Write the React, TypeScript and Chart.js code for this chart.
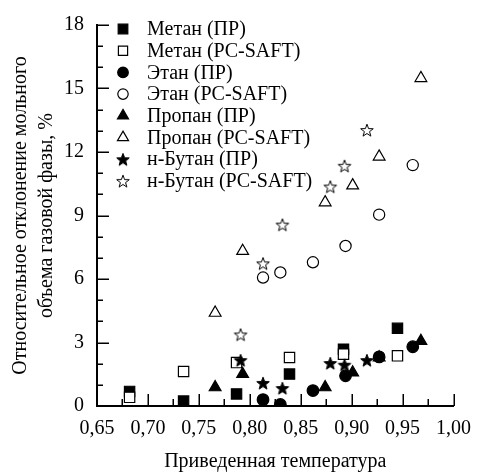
import React, { useEffect, useRef } from 'react';
import { Chart, registerables } from 'chart.js';
import { drawPoint } from 'chart.js/helpers';

Chart.register(...registerables);

// ---- data ----
const seriesLabels = [
  'Метан (ПР)',
  'Метан (PC-SAFT)',
  'Этан (ПР)',
  'Этан (PC-SAFT)',
  'Пропан (ПР)',
  'Пропан (PC-SAFT)',
  'н-Бутан (ПР)',
  'н-Бутан (PC-SAFT)',
];

const methaneT = [0.682, 0.735, 0.787, 0.839, 0.892, 0.945];
const methanePR = [0.69, 0.23, 0.57, 1.51, 2.68, 3.67];
const methanePCSAFT = [0.41, 1.63, 2.05, 2.29, 2.45, 2.37];

const ethaneT = [0.813, 0.83, 0.862, 0.894, 0.927, 0.96];
const ethanePR = [0.3, 0.07, 0.73, 1.43, 2.32, 2.8];
const ethanePCSAFT = [6.07, 6.31, 6.79, 7.56, 9.04, 11.38];

const propaneT = [0.766, 0.793, 0.874, 0.901, 0.927, 0.968];
const propanePR = [0.88, 1.51, 0.88, 1.58, 2.29, 3.07];
const propanePCSAFT = [4.4, 7.32, 9.62, 10.42, 11.78, 15.49];

const butaneT = [0.791, 0.813, 0.832, 0.879, 0.893, 0.915];
const butanePR = [2.17, 1.09, 0.85, 2.03, 1.95, 2.17];
const butanePCSAFT = [3.38, 6.74, 8.57, 10.37, 11.35, 13.04];

const xTickValues = [0.65, 0.7, 0.75, 0.8, 0.85, 0.9, 0.95, 1.0];
const xTickLabels = ['0,65', '0,70', '0,75', '0,80', '0,85', '0,90', '0,95', '1,00'];
const yTickValues = [0, 3, 6, 9, 12, 15, 18];
const yTickLabels = ['0', '3', '6', '9', '12', '15', '18'];

const xTitle = 'Приведенная температура';
const yTitle = ['Относительное отклонение мольного', 'объема газовой фазы, %'];

const FONT = '"Liberation Serif", "Times New Roman", serif';

function makeStar(filled: boolean): HTMLCanvasElement {
  const c = document.createElement('canvas');
  c.width = 16;
  c.height = 16;
  const g = c.getContext('2d')!;
  g.beginPath();
  const outer = 6.6;
  const inner = filled ? 2.8 : 2.7;
  for (let k = 0; k < 10; k++) {
    const r = k % 2 === 0 ? outer : inner;
    const a = -Math.PI / 2 + (k * Math.PI) / 5;
    const px = 8 + r * Math.cos(a);
    const py = 8.8 + r * Math.sin(a);
    if (k === 0) g.moveTo(px, py);
    else g.lineTo(px, py);
  }
  g.closePath();
  g.fillStyle = filled ? '#000' : '#fff';
  g.fill();
  g.lineWidth = 1;
  g.strokeStyle = '#000';
  g.stroke();
  return c;
}

const pts = (t: number[], v: number[]) => t.map((x, i) => ({ x, y: v[i] }));

const innerTicks = {
  id: 'innerTicks',
  beforeDatasetsDraw(chart: any) {
    const { ctx, chartArea, scales } = chart;
    const xs = scales.x;
    const ys = scales.y;
    ctx.save();
    ctx.strokeStyle = '#000';
    ctx.lineWidth = 1.5;
    ctx.beginPath();
    for (let k = 0; k <= 14; k++) {
      const v = 0.65 + k * 0.025;
      const px = Math.round(xs.getPixelForValue(v)) + 0.25;
      const len = k % 2 === 0 ? 12 : 7;
      ctx.moveTo(px, chartArea.bottom);
      ctx.lineTo(px, chartArea.bottom - len);
    }
    for (let v = 0; v <= 18; v++) {
      const py = Math.round(ys.getPixelForValue(v)) + 0.25;
      const len = v % 3 === 0 ? 12 : 6;
      ctx.moveTo(chartArea.left, py);
      ctx.lineTo(chartArea.left + len, py);
    }
    ctx.stroke();
    ctx.restore();
  },
};

const innerLegend = {
  id: 'innerLegend',
  afterDraw(chart: any) {
    const { ctx, chartArea } = chart;
    ctx.save();
    chart.data.datasets.forEach((ds: any, i: number) => {
      const cy = chartArea.top + 4 + i * 21.7;
      const cx = chartArea.left + 26;
      ctx.fillStyle = ds.backgroundColor;
      ctx.strokeStyle = ds.borderColor;
      ctx.lineWidth = ds.borderWidth;
      drawPoint(
        ctx,
        { pointStyle: ds.pointStyle, radius: ds.legendRadius, rotation: 0, borderWidth: ds.borderWidth },
        cx,
        cy
      );
      ctx.fillStyle = '#000';
      ctx.font = `20px ${FONT}`;
      ctx.textBaseline = 'middle';
      ctx.textAlign = 'left';
      ctx.fillText(ds.label, cx + 24, cy + 1);
    });
    ctx.restore();
  },
};

export default function App() {
  const ref = useRef<HTMLCanvasElement | null>(null);

  useEffect(() => {
    if (!ref.current) return;
    const starFilled = makeStar(true);
    const starOpen = makeStar(false);

    const mk = (i: number, data: any[], style: any, filled: boolean, radius: number, legendRadius: number) => ({
      label: seriesLabels[i],
      data,
      pointStyle: style,
      pointRadius: radius,
      legendRadius,
      pointHoverRadius: radius,
      backgroundColor: filled ? '#000' : '#fff',
      borderColor: '#000',
      borderWidth: 1.2,
      showLine: false,
      order: 8 - i,
    });

    const chart = new Chart(ref.current, {
      type: 'scatter',
      data: {
        datasets: [
          mk(0, pts(methaneT, methanePR), 'rect', true, 7.3, 6.8),
          mk(1, pts(methaneT, methanePCSAFT), 'rect', false, 7.3, 6.5),
          mk(2, pts(ethaneT, ethanePR), 'circle', true, 5.8, 5.3),
          mk(3, pts(ethaneT, ethanePCSAFT), 'circle', false, 5.6, 5.2),
          mk(4, pts(propaneT, propanePR), 'triangle', true, 6.8, 6.4),
          mk(5, pts(propaneT, propanePCSAFT), 'triangle', false, 6.8, 6.4),
          mk(6, pts(butaneT, butanePR), starFilled, true, 6, 6),
          mk(7, pts(butaneT, butanePCSAFT), starOpen, false, 6, 6),
        ] as any,
      },
      options: {
        responsive: false,
        animation: false,
        events: [],
        layout: { padding: { top: 21, right: 19, left: 0, bottom: 0 } },
        plugins: {
          legend: { display: false },
          tooltip: { enabled: false },
        },
        scales: {
          x: {
            type: 'linear',
            min: 0.65,
            max: 1.0,
            afterBuildTicks: (s: any) => {
              s.ticks = xTickValues.map((v) => ({ value: v }));
            },
            afterFit: (s: any) => {
              s.height = 68;
            },
            ticks: {
              callback: (_v: any, i: number) => xTickLabels[i],
              font: { family: FONT, size: 20 },
              color: '#000',
              padding: 11,
              maxRotation: 0,
              autoSkip: false,
            },
            grid: { display: false, drawTicks: false },
            border: { display: true, color: '#000', width: 2 },
            title: {
              display: true,
              text: xTitle,
              color: '#000',
              font: { family: FONT, size: 20, lineHeight: 1.2 },
              padding: { top: 0, bottom: 0 },
            },
          },
          y: {
            type: 'linear',
            min: 0,
            max: 18,
            afterBuildTicks: (s: any) => {
              s.ticks = yTickValues.map((v) => ({ value: v }));
            },
            afterFit: (s: any) => {
              s.width = 97;
            },
            ticks: {
              callback: (_v: any, i: number) => yTickLabels[i],
              font: { family: FONT, size: 20 },
              color: '#000',
              padding: 13,
              autoSkip: false,
            },
            grid: { display: false, drawTicks: false },
            border: { display: true, color: '#000', width: 2 },
            title: {
              display: true,
              text: yTitle,
              color: '#000',
              font: { family: FONT, size: 20, lineHeight: 1.3 },
              padding: { top: 8, bottom: 0 },
            },
          },
        },
      },
      plugins: [innerTicks, innerLegend],
    } as any);

    return () => chart.destroy();
  }, []);

  return (
    <div style={{ position: 'fixed', left: 0, top: 0, width: 482, height: 474, background: '#fff' }}>
      <canvas ref={ref} width={482} height={474} style={{ display: 'block' }} />
    </div>
  );
}
